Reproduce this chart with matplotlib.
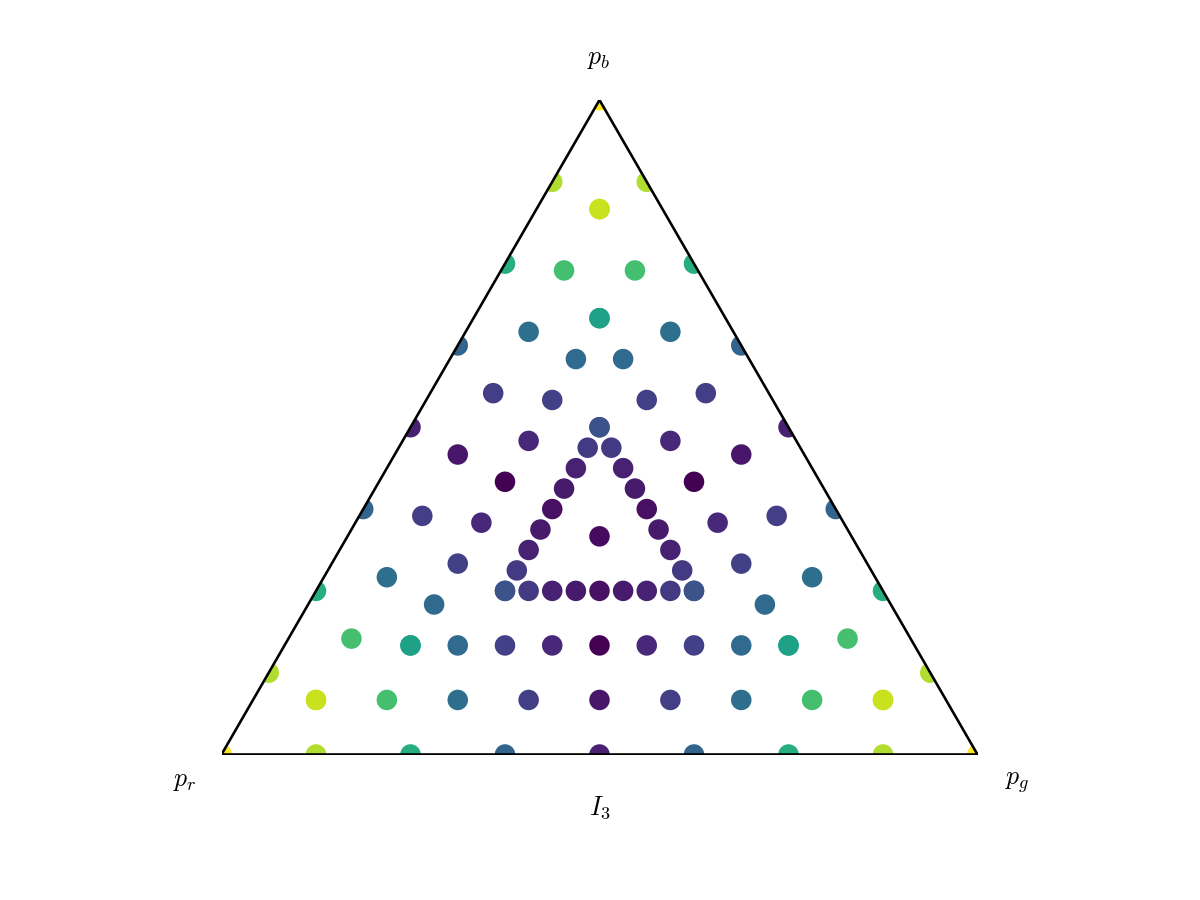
import numpy as np
import matplotlib
matplotlib.use('Agg')
import matplotlib.pyplot as plt
from matplotlib.patches import Polygon

plt.rcParams['mathtext.fontset'] = 'cm'

### inset of each ring of points from the triangle edges
ring_inset = [0.0, 1.0/12, 2.0/12, 3.0/12]
### value along one side of each ring, corner -> corner (9 points, same on all 3 sides)
ring1_vals = [1.00, 0.88, 0.62, 0.32, 0.09, 0.32, 0.62, 0.88, 1.00]
ring2_vals = [0.92, 0.70, 0.36, 0.18, 0.06, 0.18, 0.36, 0.70, 0.92]
ring3_vals = [0.57, 0.34, 0.19, 0.11, 0.00, 0.11, 0.19, 0.34, 0.57]
ring4_vals = [0.25, 0.17, 0.09, 0.07, 0.04, 0.07, 0.09, 0.17, 0.25]
ring_vals = [ring1_vals, ring2_vals, ring3_vals, ring4_vals]
center_val = 0.03
corner_labels = ['$p_r$', '$p_g$', '$p_b$']
bottom_label = '$I_3$'

h = np.sqrt(3) / 2

def to_xy(pr, pg, pb):
    return pg + pb / 2.0, pb * h

pts = []
vals = []
for d, rv in zip(ring_inset, ring_vals):
    A = np.array([1 - 2 * d, d, d])
    B = np.array([d, 1 - 2 * d, d])
    C = np.array([d, d, 1 - 2 * d])
    for P, Q in [(A, B), (B, C), (C, A)]:
        for k, v in enumerate(rv):
            t = k / 8.0
            pts.append(P + t * (Q - P))
            vals.append(v)
pts.append(np.array([1 / 3.0, 1 / 3.0, 1 / 3.0]))
vals.append(center_val)
pts = np.array(pts)
x, y = to_xy(pts[:, 0], pts[:, 1], pts[:, 2])

fig = plt.figure(figsize=(6.4, 4.8), dpi=187.5)
ax = fig.add_axes([221.5 / 1200., (900 - 754.5) / 900., 756 / 1200., 654.5 / 900.])
ax.set_xlim(0, 1)
ax.set_ylim(0, h)
ax.axis('off')

tri = Polygon([[0, 0], [1, 0], [0.5, h]], closed=True, fill=False,
              edgecolor='black', linewidth=1.0, zorder=3)
ax.add_patch(tri)
sc = ax.scatter(x, y, c=vals, cmap='viridis', s=62, linewidths=0, zorder=2)
sc.set_clip_path(tri)

fig.text(185 / 1200., 1 - 780 / 900., corner_labels[0], ha='center', va='center', fontsize=10)
fig.text(1017 / 1200., 1 - 782 / 900., corner_labels[1], ha='center', va='center', fontsize=10)
fig.text(599 / 1200., 1 - 58 / 900., corner_labels[2], ha='center', va='center', fontsize=10)
fig.text(600 / 1200., 1 - 808 / 900., bottom_label, ha='center', va='center', fontsize=10)

plt.savefig('out.png', dpi=187.5)
